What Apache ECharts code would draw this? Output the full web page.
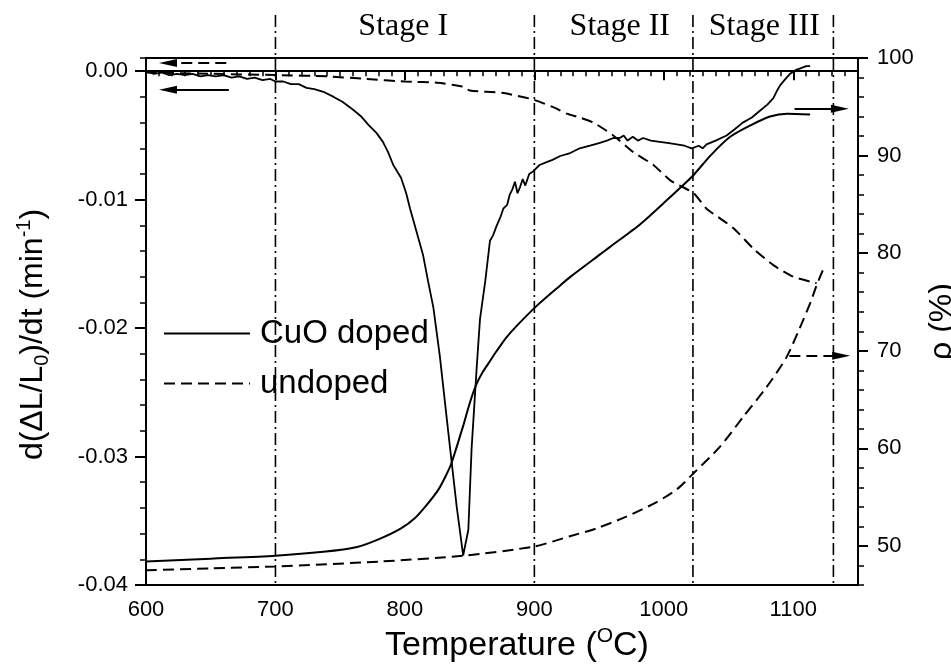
<!DOCTYPE html>
<html><head><meta charset="utf-8">
<script src="https://cdn.jsdelivr.net/npm/echarts@6/dist/echarts.min.js"></script>
<style>html,body{margin:0;padding:0;background:#fff}#c{width:951px;height:665px}</style>
</head><body><div id="c"></div>
<script>
// ---------- data ----------
const seriesNames = ['CuO doped', 'undoped'];
// densification rate d(ΔL/L0)/dt (min^-1) vs temperature (°C)
const dopedRate = [[600,-0.0000],[606,-0.0002],[612,-0.0001],[618,-0.0003],[624,-0.0002],[630,-0.0003],[636,-0.0002],[642,-0.0004],[648,-0.0003],[654,-0.0004],[660,-0.0003],[666,-0.0005],[672,-0.0004],[678,-0.0006],[684,-0.0005],[690,-0.0007],[696,-0.0006],[700,-0.0008],[706,-0.0008],[712,-0.0010],[718,-0.0010],[724,-0.0013],[730,-0.0014],[737,-0.0016],[745,-0.0020],[752,-0.0024],[760,-0.0030],[766,-0.0035],[772,-0.0042],[778,-0.0048],[783,-0.0055],[787,-0.0063],[791,-0.0073],[797,-0.0083],[801,-0.0095],[804,-0.0107],[809,-0.0125],[814,-0.0143],[818,-0.0164],[822,-0.0184],[827,-0.0222],[833.5,-0.0281],[840,-0.0339],[845,-0.0377],[849,-0.0357],[851.5,-0.0294],[855.5,-0.0230],[858,-0.0193],[862,-0.0164],[865.7,-0.0132],[868,-0.0128],[871,-0.0120],[874,-0.0113],[876,-0.0107],[879,-0.0104],[881,-0.0096],[883,-0.0092],[885,-0.0086],[887,-0.0095],[889,-0.0090],[891,-0.0084],[893,-0.0089],[896,-0.0080],[899,-0.0078],[904,-0.0073],[909,-0.0071],[914,-0.0069],[920,-0.0066],[927,-0.0064],[935,-0.0060],[943,-0.0058],[950,-0.0056],[956,-0.0054],[961,-0.0052],[966,-0.0052],[969,-0.0050],[972,-0.0054],[976,-0.0051],[980,-0.0054],[984,-0.0052],[990,-0.0054],[997,-0.0055],[1004,-0.0056],[1010,-0.0057],[1016,-0.0058],[1021.5,-0.0060],[1027,-0.0058],[1030,-0.0060],[1033,-0.0057],[1040,-0.0054],[1048.5,-0.0050],[1055,-0.0045],[1061,-0.0040],[1068,-0.0036],[1074,-0.0031],[1080,-0.0026],[1084.6,-0.0021],[1087,-0.0016],[1089.8,-0.0011],[1094,-0.0006],[1097.5,-0.0002],[1102,0.0001],[1105,0.0002],[1110,0.0004],[1113,0.0004]];
const undopedRate = [[600,-0.0001],[650,-0.0002],[700,-0.0003],[740,-0.0004],[770,-0.0006],[800,-0.0008],[825,-0.0009],[845,-0.0012],[850,-0.0015],[876,-0.0017],[899,-0.0022],[914.6,-0.0028],[925,-0.0033],[935,-0.0036],[945.6,-0.0040],[961,-0.0050],[976.5,-0.0063],[992,-0.0073],[1005,-0.0085],[1023,-0.0095],[1033,-0.0107],[1053.6,-0.0122],[1069,-0.0138],[1084.6,-0.0151],[1100,-0.0160],[1118,-0.0165]];
// relative density ρ (%) vs temperature (°C)
const dopedRho = [[600,48.4],[650,48.7],[700,49.0],[737,49.4],[763,49.9],[780,50.7],[797,51.8],[808,52.9],[818,54.4],[826,55.8],[832,57.3],[836,58.5],[845,62.3],[850,64.6],[855,66.5],[860,67.8],[866,69.0],[871,70.0],[878,71.3],[886,72.5],[901,74.5],[920,76.7],[928,77.6],[951,79.9],[958,80.6],[982,83.0],[1002,85.4],[1021.5,87.8],[1036,90.0],[1051,91.9],[1067,93.1],[1082,94.0],[1095,94.3],[1113,94.2]];
const undopedRho = [[600,47.5],[650,47.7],[700,47.9],[780,48.4],[845,49.0],[900,49.95],[927.5,51.0],[948,51.8],[971,53.0],[994.5,54.5],[1010,55.8],[1023,57.45],[1043.6,60.2],[1061.4,63.25],[1079.5,66.3],[1095,69.4],[1107.8,73.2],[1114,75.2],[1118,76.7],[1123,78.3]];
// axis ticks
const tempTicks = [600, 700, 800, 900, 1000, 1100];
const rateTicks = [-0.04, -0.03, -0.02, -0.01, 0];
const rhoTicks = [50, 60, 70, 80, 90, 100];
// stage boundaries (°C) and labels
const stageBounds = [700, 900, 1022.5, 1131];
const stageNames = ['Stage I', 'Stage II', 'Stage III'];
const stageCenters = [798.7, 966, 1077.6];
// axis-pointing arrows [from, to] in data coordinates
const arrowUndopedRate = [[662, 0.00065], [617, 0.00065]];
const arrowDopedRate = [[664, -0.00145], [617, -0.00145]];
const arrowDopedRho = [[1101, 94.8], [1136, 94.8]];
const arrowUndopedRho = [[1097, 69.5], [1137, 69.5]];

// ---------- chart ----------
const FONT = '"Liberation Sans", Arial, sans-serif';
const DASH = [11, 6];
const black = '#000';
function arrow(pts, dashed) {
  return {
    silent: true, animation: false,
    label: { show: false }, emphasis: { disabled: true },
    lineStyle: { color: black, width: 2, type: dashed ? DASH : 'solid' },
    data: [[{ coord: pts[0], symbol: 'none' }, { coord: pts[1], symbol: 'triangle', symbolSize: [8, 18] }]]
  };
}
const isMult = (v, m) => Math.abs(v / m - Math.round(v / m)) < 1e-6;
const tickLabel = { color: black, fontSize: 22, fontFamily: FONT };

const chart = echarts.init(document.getElementById('c'), null, { renderer: 'canvas' });
const option = {
  animation: false,
  backgroundColor: '#fff',
  grid: { left: 146, right: 93, top: 58, bottom: 80, show: true, borderColor: black, borderWidth: 2,
    backgroundColor: 'transparent', containLabel: false, outerBoundsMode: 'none' },
  legend: {
    data: seriesNames, orient: 'vertical', left: 163, top: 317, padding: 0,
    itemWidth: 86, itemHeight: 14, itemGap: 17,
    itemStyle: { opacity: 0 },
    textStyle: { fontSize: 33, fontFamily: FONT, color: black, padding: [0, 0, 0, 5] },
    selectedMode: false
  },
  xAxis: [
    {
      type: 'value', position: 'bottom', min: 600, max: 1150, interval: 10,
      axisLine: { lineStyle: { color: black, width: 2 } },
      axisTick: { length: 5, lineStyle: { color: black, width: 1.5 } },
      axisLabel: Object.assign({ margin: 14, formatter: v => (isMult(v, 100) && v <= 1100) ? String(v) : '' }, tickLabel),
      splitLine: { show: false },
      name: 'Temperature ({sup|O}C)', nameLocation: 'middle', nameGap: 39,
      nameTextStyle: { fontSize: 34, fontFamily: FONT, color: black, lineHeight: 40, padding: [0, 0, 0, 30],
        rich: { sup: { fontSize: 21, verticalAlign: 'top', lineHeight: 24, fontFamily: FONT, color: black } } }
    },
    {
      type: 'value', position: 'bottom', min: 600, max: 1150,
      axisLine: { show: false },
      axisTick: { customValues: tempTicks, length: 9, lineStyle: { color: black, width: 2 } },
      axisLabel: { show: false }, splitLine: { show: false }
    }
  ],
  yAxis: [
    {
      type: 'value', position: 'left', min: -0.04, max: 0.00103, interval: 0.002,
      axisLine: { show: true, lineStyle: { color: black, width: 2 } },
      axisTick: { show: true, length: 6, lineStyle: { color: black, width: 1.5 } },
      axisLabel: Object.assign({ margin: 18, formatter: v => (isMult(v, 0.01) && v < 0.0005) ? (Math.round(v * 100) / 100).toFixed(2) : '' }, tickLabel),
      splitLine: { show: false },
      name: 'd(ΔL/L{sub|0})/dt (min{sup|-1})', nameLocation: 'middle', nameGap: 94, nameRotate: 90,
      nameTextStyle: { fontSize: 32, fontFamily: FONT, color: black, lineHeight: 38, padding: [0, 26, 0, 0],
        rich: {
          sub: { fontSize: 20, verticalAlign: 'bottom', lineHeight: 22, fontFamily: FONT, color: black },
          sup: { fontSize: 20, verticalAlign: 'top', lineHeight: 22, fontFamily: FONT, color: black }
        } }
    },
    {
      type: 'value', position: 'left', min: -0.04, max: 0.00103,
      axisLine: { show: false },
      axisTick: { show: true, customValues: rateTicks, length: 11, lineStyle: { color: black, width: 2 } },
      axisLabel: { show: false }, splitLine: { show: false }
    },
    {
      type: 'value', position: 'right', min: 46, max: 100, interval: 2,
      axisLine: { show: true, lineStyle: { color: black, width: 2 } },
      axisTick: { show: true, length: 6, lineStyle: { color: black, width: 1.5 } },
      axisLabel: Object.assign({ margin: 19, formatter: v => isMult(v, 10) ? String(v) : '' }, tickLabel),
      splitLine: { show: false },
      name: 'ρ (%)', nameLocation: 'middle', nameGap: 68, nameRotate: 90,
      nameTextStyle: { fontSize: 32, fontFamily: FONT, color: black }
    },
    {
      type: 'value', position: 'right', min: 46, max: 100,
      axisLine: { show: false },
      axisTick: { show: true, customValues: rhoTicks, length: 10, lineStyle: { color: black, width: 2 } },
      axisLabel: { show: false }, splitLine: { show: false }
    }
  ],
  series: [
    { name: seriesNames[0], type: 'line', xAxisIndex: 0, yAxisIndex: 0, data: dopedRate, symbol: 'none',
      lineStyle: { color: black, width: 1.8 }, itemStyle: { color: black }, markLine: arrow(arrowDopedRate, false) },
    { name: seriesNames[1], type: 'line', xAxisIndex: 0, yAxisIndex: 0, data: undopedRate, symbol: 'none', smooth: 0.2,
      lineStyle: { color: black, width: 2, type: DASH }, itemStyle: { color: black }, markLine: arrow(arrowUndopedRate, true) },
    { name: seriesNames[0], type: 'line', xAxisIndex: 0, yAxisIndex: 2, data: dopedRho, symbol: 'none', smooth: 0.25,
      lineStyle: { color: black, width: 2 }, itemStyle: { color: black }, markLine: arrow(arrowDopedRho, false) },
    { name: seriesNames[1], type: 'line', xAxisIndex: 0, yAxisIndex: 2, data: undopedRho, symbol: 'none', smooth: 0.25,
      lineStyle: { color: black, width: 2, type: DASH }, itemStyle: { color: black }, markLine: arrow(arrowUndopedRho, true) }
  ]
};
chart.setOption(option);

// stage separators (extend above the frame) and stage labels
const yBottom = chart.convertToPixel({ yAxisIndex: 0 }, -0.04);
const graphics = [];
stageBounds.forEach(t => {
  const x = chart.convertToPixel({ xAxisIndex: 0 }, t);
  graphics.push({ type: 'line', silent: true, z: 1,
    shape: { x1: x, y1: 15, x2: x, y2: yBottom },
    style: { stroke: black, lineWidth: 1.6, lineDash: [12, 4, 2, 4] } });
});
stageNames.forEach((s, i) => {
  const x = chart.convertToPixel({ xAxisIndex: 0 }, stageCenters[i]);
  graphics.push({ type: 'text', silent: true, x: x, y: 27,
    style: { text: s, font: '32px "Liberation Serif", "Times New Roman", serif', fill: black,
      align: 'center', verticalAlign: 'middle', textAlign: 'center', textVerticalAlign: 'middle' } });
});
chart.setOption({ graphic: graphics });
</script>
</body></html>
